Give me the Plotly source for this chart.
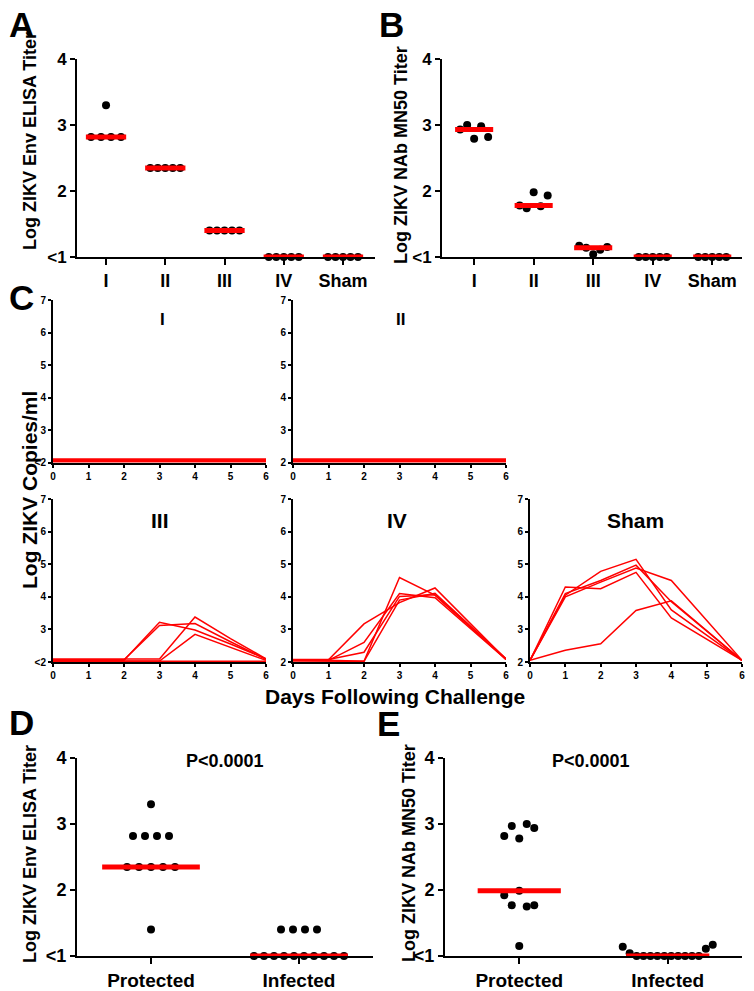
import numpy as np
import plotly.graph_objects as go

# ---------------- data ----------------
groups = ["I", "II", "III", "IV", "Sham"]
elisa_by_group = [
    [3.3, 2.82, 2.82, 2.82, 2.82],
    [2.35, 2.35, 2.35, 2.35, 2.35],
    [1.4, 1.4, 1.4, 1.4, 1.4],
    [1.0, 1.0, 1.0, 1.0, 1.0],
    [1.0, 1.0, 1.0, 1.0, 1.0],
]
nab_by_group = [
    [2.93, 3.0, 2.79, 2.98, 2.82],
    [1.78, 1.74, 1.98, 1.77, 1.93],
    [1.17, 1.14, 1.04, 1.11, 1.15],
    [1.0, 1.0, 1.0, 1.0, 1.0],
    [1.0, 1.0, 1.0, 1.0, 1.0],
]
y_ticks_titer = [1, 2, 3, 4]
y_ticktext_titer = ["<1", "2", "3", "4"]

days = [0, 1, 2, 3, 4, 5, 6]
viral_I = [
    [2.02] * 7, [2.04] * 7, [2.06] * 7, [2.08] * 7, [2.10] * 7,
]
viral_II = [
    [2.02] * 7, [2.04] * 7, [2.06] * 7, [2.08] * 7, [2.10] * 7,
]
viral_III = [
    [2.05, 2.05, 2.05, 3.22, 2.98, 2.55, 2.10],
    [2.07, 2.07, 2.07, 3.12, 3.18, 2.62, 2.08],
    [2.09, 2.09, 2.09, 2.09, 3.38, 2.72, 2.10],
    [2.03, 2.03, 2.03, 2.03, 2.85, 2.45, 2.05],
    [2.02, 2.02, 2.02, 2.02, 2.02, 2.02, 2.02],
]
viral_IV = [
    [2.05, 2.05, 2.02, 4.59, 4.05, 3.08, 2.10],
    [2.07, 2.07, 3.17, 3.82, 4.27, 3.18, 2.08],
    [2.05, 2.05, 2.60, 4.10, 3.97, 3.03, 2.08],
    [2.08, 2.08, 2.30, 4.01, 4.06, 3.07, 2.08],
    [2.03, 2.03, 2.02, 3.90, 4.11, 3.10, 2.10],
]
viral_Sham = [
    [2.05, 2.36, 2.56, 3.58, 3.88, 2.97, 2.05],
    [2.05, 4.30, 4.25, 4.75, 3.35, 2.70, 2.05],
    [2.05, 4.05, 4.78, 5.15, 3.60, 2.83, 2.05],
    [2.05, 4.10, 4.50, 4.97, 3.85, 2.95, 2.05],
    [2.05, 4.00, 4.45, 4.88, 4.50, 3.28, 2.05],
]
viral_yticks = [2, 3, 4, 5, 6, 7]

outcome_groups = ["Protected", "Infected"]
elisa_protected = [3.3, 2.82, 2.82, 2.82, 2.82, 2.35, 2.35, 2.35, 2.35, 2.35, 1.4]
elisa_infected = [1.4, 1.4, 1.4, 1.4, 1.0, 1.0, 1.0, 1.0, 1.0, 1.0, 1.0, 1.0, 1.0, 1.0]
nab_protected = [2.82, 2.97, 2.78, 3.0, 2.94, 1.92, 1.77, 1.99, 1.75, 1.77, 1.15]
nab_infected = [1.14, 1.04, 1.0, 1.0, 1.0, 1.0, 1.0, 1.0, 1.0, 1.0, 1.0, 1.0, 1.11, 1.17]
p_text = "P<0.0001"

# ---------------- layout helpers ----------------
W, H = 754, 991
FONT = "Liberation Sans, Arial, Helvetica, sans-serif"
RED = "#ff0000"


def dx(a, b):
    return [a / W, b / W]


def dy(top, bottom):
    return [1 - bottom / H, 1 - top / H]


def swarm(values, center, unit_px, max_sp, max_w, tol=0.3):
    clusters = []
    for i, v in enumerate(values):
        for c in clusters:
            if abs(v - np.mean([values[j] for j in c])) < tol:
                c.append(i)
                break
        else:
            clusters.append([i])
    xs = [center] * len(values)
    for c in clusters:
        m = len(c)
        sp = max_sp if m <= 1 else min(max_sp, max_w / (m - 1))
        for k, i in enumerate(c):
            xs[i] = center + (k - (m - 1) / 2) * sp / unit_px
    return xs


fig = go.Figure()

axis_common = dict(showline=True, linewidth=2, linecolor="black", ticks="outside",
                   tickwidth=2, tickcolor="black", showgrid=False, zeroline=False,
                   layer="below traces", fixedrange=True, automargin=False)

# ----- scatter panels A, B, D, E -----
scatter_panels = [
    # key, data, cats, xdom px, ydom px, xrange, max_sp, max_w, halfwidth, xfont, yfont
    ("", elisa_by_group, groups, (77, 375), (59, 257), [0.51, 5.54], 10, 30, 0.34, 18, 17),
    ("2", nab_by_group, groups, (442, 742), (59, 257), [0.46, 5.5], 7, 28, 0.32, 18, 17),
    ("8", [elisa_protected, elisa_infected], outcome_groups, (77, 373), (758, 956), [0.5, 2.5], 12, 90, 0.33, 19, 18),
    ("9", [nab_protected, nab_infected], outcome_groups, (445, 742), (758, 956), [0.5, 2.5], 7.5, 90, 0.28, 19, 18),
]

for key, data, cats, xd, yd, xr, max_sp, max_w, hw, xfs, yfs in scatter_panels:
    unit_px = (xd[1] - xd[0]) / (xr[1] - xr[0])
    xa = "x" + key
    ya = "y" + key
    for gi, vals in enumerate(data):
        center = gi + 1
        xs = swarm(vals, center, unit_px, max_sp, max_w)
        fig.add_trace(go.Scatter(x=xs, y=vals, mode="markers", xaxis=xa, yaxis=ya,
                                 marker=dict(color="black", size=8), cliponaxis=False,
                                 showlegend=False, hoverinfo="skip"))
    for gi, vals in enumerate(data):
        center = gi + 1
        med = float(np.median(vals))
        fig.add_trace(go.Scatter(x=[center - hw, center + hw], y=[med, med], mode="lines",
                                 xaxis=xa, yaxis=ya, line=dict(color=RED, width=5),
                                 cliponaxis=False, showlegend=False, hoverinfo="skip"))
    xname = "xaxis" + key
    yname = "yaxis" + key
    fig.layout[xname] = dict(axis_common, domain=dx(*xd), range=xr, anchor=ya,
                             tickmode="array", tickvals=list(range(1, len(cats) + 1)),
                             ticktext=cats, ticklen=6,
                             tickfont=dict(family=FONT, size=xfs, color="black", weight="bold"))
    fig.layout[yname] = dict(axis_common, domain=dy(*yd), range=[1, 4], anchor=xa,
                             tickmode="array", tickvals=y_ticks_titer, ticktext=y_ticktext_titer,
                             ticklen=5,
                             tickfont=dict(family=FONT, size=yfs, color="black", weight="bold"))

# ----- viral load panels C -----
viral_panels = [
    ("3", viral_I, (53, 266), (300, 462.5), "<2", 2.0),
    ("4", viral_II, (293, 506), (300, 462.5), "2", 2.0),
    ("5", viral_III, (53, 266), (499, 662), "<2", 1.5),
    ("6", viral_IV, (293, 506), (499, 662), "2", 1.5),
    ("7", viral_Sham, (530, 742), (499, 662), "2", 1.5),
]
for key, lines, xd, yd, low_lbl, lw in viral_panels:
    xa = "x" + key
    ya = "y" + key
    for ln in lines:
        fig.add_trace(go.Scatter(x=days, y=ln, mode="lines", xaxis=xa, yaxis=ya,
                                 line=dict(color=RED, width=lw), cliponaxis=False,
                                 showlegend=False, hoverinfo="skip"))
    fig.layout["xaxis" + key] = dict(axis_common, domain=dx(*xd), range=[0, 6], anchor=ya,
                                     tickmode="array", tickvals=days, ticklen=3,
                                     tickfont=dict(family=FONT, size=10, color="black", weight="bold"))
    fig.layout["yaxis" + key] = dict(axis_common, domain=dy(*yd), range=[2, 7], anchor=xa,
                                     tickmode="array", tickvals=viral_yticks,
                                     ticktext=[low_lbl] + [str(v) for v in viral_yticks[1:]],
                                     ticklen=3,
                                     tickfont=dict(family=FONT, size=10, color="black", weight="bold"))

# ----- text annotations -----
ann = []


def text(t, x, y, size, angle=0):
    ann.append(dict(text=t, x=x / W, y=1 - y / H, xref="paper", yref="paper",
                    xanchor="center", yanchor="middle", showarrow=False, textangle=angle,
                    font=dict(family=FONT, size=size, color="black", weight="bold")))


for letter, x, y in [("A", 21, 24), ("B", 391, 24), ("C", 21, 297), ("D", 21, 722), ("E", 389, 723)]:
    text(letter, x, y, 35)

text("Log ZIKV Env ELISA Titer", 30, 141, 18, -90)
text("Log ZIKV NAb MN50 Titer", 401, 155, 18, -90)
text("Log ZIKV Copies/ml", 30, 490, 21, -90)
text("Log ZIKV Env ELISA Titer", 30, 854, 18, -90)
text("Log ZIKV NAb MN50 Titer", 409, 853, 18, -90)
text("Days Following Challenge", 395, 696, 21)

text("I", 162, 319, 17)
text("II", 400, 319, 17)
text("III", 160, 520, 21)
text("IV", 397, 520, 21)
text("Sham", 635, 520, 21)

text(p_text, 225, 761, 18)
text(p_text, 591, 761, 18)

fig.update_layout(template="none", width=W, height=H, margin=dict(l=0, r=0, t=0, b=0, pad=0),
                  paper_bgcolor="white", plot_bgcolor="white",
                  annotations=ann, showlegend=False)

fig.write_html("out.html", config={"displayModeBar": False, "staticPlot": True},
               post_script="document.body.style.margin='0px';document.body.style.padding='0px';")
